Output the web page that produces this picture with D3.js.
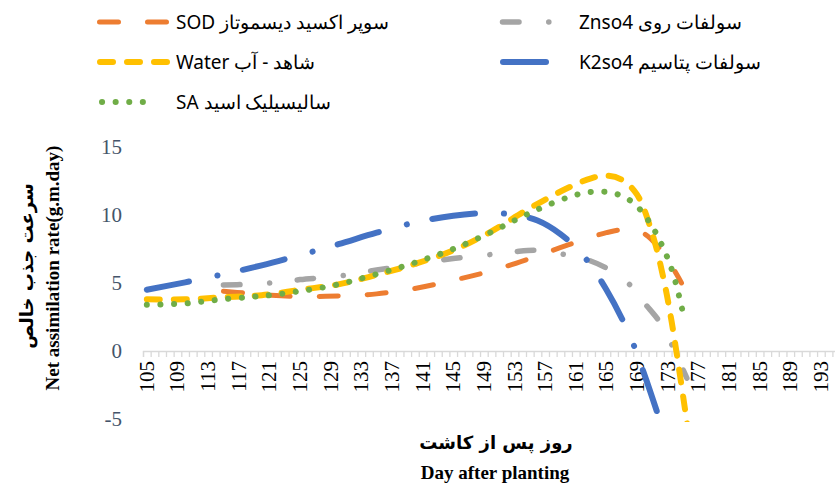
<!DOCTYPE html>
<html><head><meta charset="utf-8">
<script src="https://cdn.jsdelivr.net/npm/d3@7"></script>
<style>body{margin:0;background:#fff} svg{display:block}</style>
</head><body>
<svg id="chart" width="835" height="483"></svg>
<script>
// ---------- data ----------
const firstDay = 105, lastDay = 196;            // category axis range (days)
const tickLabels = [105,109,113,117,121,125,129,133,137,141,145,149,153,157,161,165,169,173,177,181,185,189,193];
const yTicks = [-5, 0, 5, 10, 15];

const seriesNames = ["SOD سوپر اکسید دیسموتاز", "Znso4 سولفات روی", "Water شاهد - آب", "K2so4 سولفات پتاسیم", "SA سالیسیلیک اسید"];

const sodDays   = [115,118,121,125,130,135,140,145,150,155,160,165,168,170,172,174,174.8];
const sodValues = [4.4,4.25,4.1,4.0,4.05,4.2,4.6,5.2,5.9,6.8,7.8,8.7,8.95,8.6,7.5,5.8,5.0];

const znDays   = [115,118,121,125,130,135,140,145,150,153,156,159,162,165,168,170,172,173.5,175.5];
const znValues = [4.85,4.9,5.0,5.25,5.5,5.95,6.4,6.8,7.1,7.3,7.4,7.15,6.8,6.1,4.9,3.5,2.1,0.5,-2.0];

const waterDays   = [105,110,115,120,125,130,135,140,145,150,155,160,163,165,167,169,171,172.5,173.5,174.5,175.6];
const waterValues = [3.8,3.8,3.95,4.1,4.5,4.9,5.6,6.4,7.4,8.8,10.5,12.0,12.7,12.9,12.6,11.5,8.6,5.2,2.2,-1.4,-5.6];

const kDays   = [105,110,115,120,125,130,135,140,145,150,153,156,159,162,165,168,170,172.2];
const kValues = [4.5,5.05,5.65,6.3,7.05,7.85,8.7,9.45,9.95,10.15,10.0,9.6,8.6,7.0,4.5,1.2,-1.8,-5.5];

const saDays   = [105,110,114,118,121,125,130,135,140,145,150,153,156,160,163,166,168.5,170.7,172.4,173.7,175];
const saValues = [3.4,3.5,3.75,3.95,4.1,4.4,4.9,5.65,6.5,7.5,8.75,9.6,10.4,11.3,11.7,11.6,10.9,9.4,7.6,5.7,2.8];

// ---------- styles ----------
const styles = [
  {color:"#ED7D31", width:5,   dash:"19,29"},
  {color:"#A5A5A5", width:5.5, dash:"16.5,29.75,0.1,27.65"},
  {color:"#FFC000", width:6,   dash:"13,14"},
  {color:"#4472C4", width:6,   dash:"43,29,0.1,26"},
  {color:"#70AD47", width:6,   dash:"0.1,13.5"}
];
const seriesData = [
  {days: sodDays, values: sodValues},
  {days: znDays, values: znValues},
  {days: waterDays, values: waterValues},
  {days: kDays, values: kValues},
  {days: saDays, values: saValues}
];

const svg = d3.select("#chart");
const dayW = 7.66;
const plotL = 143, plotT = 147, plotB = 419;
const x = d3.scaleLinear().domain([firstDay - 0.5, lastDay + 0.5]).range([plotL, plotL + (lastDay - firstDay + 1) * dayW]);
const y = d3.scaleLinear().domain([-5, 15]).range([plotB, plotT]);

svg.append("defs").append("clipPath").attr("id","plotClip")
  .append("rect").attr("x", plotL).attr("y", plotT - 10).attr("width", 835 - plotL).attr("height", plotB - plotT + 13);

// x axis (ticks at category boundaries)
const boundaries = d3.range(firstDay - 0.5, lastDay + 1, 1);
const xAxis = svg.append("g").attr("transform", `translate(0,${y(0)})`)
  .call(d3.axisBottom(x).tickValues(boundaries).tickSize(6).tickFormat(""));
xAxis.select(".domain").attr("stroke", "#D9D9D9").attr("stroke-width", 1.3);
xAxis.selectAll(".tick line").attr("stroke", "#D9D9D9").attr("stroke-width", 1.3);

// x tick labels
svg.append("g").selectAll("text").data(tickLabels).join("text")
  .attr("transform", d => `translate(${x(d)},${y(0) + 10}) rotate(-90)`)
  .attr("text-anchor", "end").attr("dominant-baseline", "central")
  .style("font-family", "'Liberation Serif','Times New Roman',serif").style("font-size", "21px")
  .attr("fill", "#000").text(d => d);

// y tick labels
svg.append("g").selectAll("text").data(yTicks).join("text")
  .attr("x", 122).attr("y", d => y(d))
  .attr("text-anchor", "end").attr("dominant-baseline", "central")
  .style("font-family", "'Liberation Serif','Times New Roman',serif").style("font-size", "21px")
  .attr("fill", "#44546A").text(d => String(d));

// lines
const line = d3.line().x(d => x(d[0])).y(d => y(d[1])).curve(d3.curveCatmullRom.alpha(0.5));
const gLines = svg.append("g").attr("clip-path", "url(#plotClip)");
seriesData.forEach((s, i) => {
  const pts = s.days.map((d, j) => [d, s.values[j]]);
  gLines.append("path").datum(pts).attr("d", line)
    .attr("fill", "none").attr("stroke", styles[i].color).attr("stroke-width", styles[i].width)
    .attr("stroke-dasharray", styles[i].dash).attr("stroke-linecap", "round");
});

// legend
const legendPos = [
  {x1: 99.5, x2: 167.5, y: 22, tx: 176},
  {x1: 502.5, x2: 552, y: 22, tx: 579},
  {x1: 100, x2: 168, y: 62, tx: 176},
  {x1: 503, x2: 550, y: 62, tx: 579},
  {x1: 102, x2: 156, y: 102, tx: 176}
];
const lg = svg.append("g");
seriesNames.forEach((name, i) => {
  const p = legendPos[i];
  lg.append("line").attr("x1", p.x1).attr("x2", p.x2).attr("y1", p.y).attr("y2", p.y)
    .attr("stroke", styles[i].color).attr("stroke-width", styles[i].width)
    .attr("stroke-dasharray", styles[i].dash).attr("stroke-linecap", "round");
  lg.append("text").attr("x", p.tx).attr("y", p.y).attr("dominant-baseline", "central")
    .style("font-family", "'Noto Sans','Open Sans',sans-serif").style("font-size", "19px")
    .attr("fill", "#000").text(name);
});

// axis titles
const yTitle = svg.append("g").attr("transform", "translate(0,266)");
yTitle.append("text").attr("transform", "translate(26,0) rotate(-90)")
  .attr("text-anchor", "middle").attr("dominant-baseline", "central")
  .style("font-family", "'DejaVu Sans',sans-serif").style("font-weight", "bold").style("font-size", "18px")
  .text("سرعت جذب خالص");
yTitle.append("text").attr("transform", "translate(52,2) rotate(-90)")
  .attr("text-anchor", "middle").attr("dominant-baseline", "central")
  .style("font-family", "'Liberation Serif','Times New Roman',serif").style("font-weight", "bold").style("font-size", "19px")
  .text("Net assimilation rate(g.m.day)");

svg.append("text").attr("x", 496).attr("y", 442).attr("text-anchor", "middle").attr("dominant-baseline", "central")
  .style("font-family", "'DejaVu Sans',sans-serif").style("font-weight", "bold").style("font-size", "18px")
  .text("روز پس از کاشت");
svg.append("text").attr("x", 495).attr("y", 472).attr("text-anchor", "middle").attr("dominant-baseline", "central")
  .style("font-family", "'Liberation Serif','Times New Roman',serif").style("font-weight", "bold").style("font-size", "19px")
  .text("Day after planting");
</script>
</body></html>
